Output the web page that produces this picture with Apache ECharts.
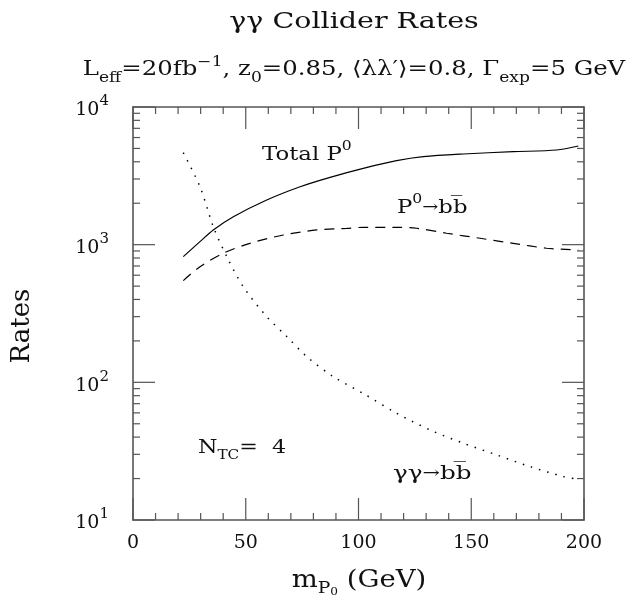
<!DOCTYPE html>
<html><head><meta charset="utf-8">
<script src="https://cdn.jsdelivr.net/npm/echarts@6/dist/echarts.min.js"></script>
<style>html,body{margin:0;padding:0;background:#fff}#c{width:636px;height:598px}</style>
</head><body><div id="c"></div>
<script>
// Data
const totalX = [22.3, 29.7, 35.6, 44.5, 59.3, 74.1, 87.4, 102.1, 116.9, 128.7, 146.5, 168.6, 187.9, 197.5];
const totalY = [818, 1052, 1279, 1597, 2112, 2637, 3085, 3586, 4074, 4357, 4558, 4735, 4871, 5210];
const bbX = [22.3, 29.7, 40.0, 51.9, 66.7, 81.5, 94.8, 102.1, 116.9, 125.8, 139.1, 153.9, 168.6, 183.4, 197.5];
const bbY = [548, 692, 866, 1023, 1176, 1279, 1313, 1337, 1337, 1316, 1210, 1113, 1023, 942, 915];
const ggX = [22.3, 29.7, 35.6, 41.6, 48.9, 59.3, 68.2, 77.0, 88.8, 102.1, 116.9, 131.7, 146.5, 161.3, 176.1, 190.8, 196.8];
const ggY = [4656, 2637, 1352, 818, 495, 300, 215, 154, 110, 83, 59.7, 45.1, 36.1, 29.7, 24.4, 20.7, 19.8];
const xTicks = [0,10,20,30,40,50,60,70,80,90,100,110,120,130,140,150,160,170,180,190,200];
const yTicks = [10,20,30,40,50,60,70,80,90,100,200,300,400,500,600,700,800,900,1000,2000,3000,4000,5000,6000,7000,8000,9000,10000];
const xRange = [0, 200];
const yRange = [10, 10000];

const zip = (xs, ys) => xs.map((x, i) => [x, ys[i]]);
const FONT = 'DejaVu Serif';
const AX = '#555';
const MAJ = 22, MIN = 7;
const isMajorX = v => v % 50 === 0;
const isMajorY = v => Math.abs(Math.log10(v) - Math.round(Math.log10(v))) < 1e-9;

const chart = echarts.init(document.getElementById('c'));
const baseRich = (size) => ({
  n: {fontSize: size, fontFamily: FONT, color: '#111', lineHeight: size + 10, verticalAlign: 'middle'},
  sub: {fontSize: Math.round(size * 0.68), fontFamily: FONT, color: '#111', lineHeight: Math.round(size * 0.68), verticalAlign: 'bottom'},
  sup: {fontSize: Math.round(size * 0.68), fontFamily: FONT, color: '#111', lineHeight: Math.round(size * 0.68), verticalAlign: 'top'},
  tiny: {fontSize: Math.round(size * 0.42), fontFamily: FONT, color: '#111', lineHeight: Math.round(size * 0.9), verticalAlign: 'bottom'},
  ar: {fontSize: Math.round(size * 0.85), fontFamily: FONT, color: '#111', lineHeight: size + 10, verticalAlign: 'middle'}
});
function txt(x, y, text, size, align, sx, rot) {
  return {type: 'text', x: x, y: y, scaleX: sx || 1, rotation: rot || 0, z: 20,
    style: {text: text, rich: baseRich(size), align: align || 'left', verticalAlign: 'middle', fill: '#111'}};
}

const axisLine = {show: true, onZero: false, lineStyle: {color: AX, width: 1.6}};
chart.setOption({
  animation: false,
  backgroundColor: '#fff',
  grid: {left: 133, right: 52, top: 107, bottom: 78, containLabel: false, outerBoundsMode: 'none'},
  xAxis: [
    {type: 'value', min: xRange[0], max: xRange[1], interval: 50, position: 'bottom',
     axisLine: axisLine, axisTick: {show: false}, splitLine: {show: false},
     axisLabel: {margin: 14, fontSize: 19, fontFamily: FONT, color: '#111'}},
    {type: 'value', min: xRange[0], max: xRange[1], interval: 50, position: 'top',
     axisLine: axisLine, axisTick: {show: false}, splitLine: {show: false}, axisLabel: {show: false}}
  ],
  yAxis: [
    {type: 'log', logBase: 10, min: yRange[0], max: yRange[1], position: 'left',
     axisLine: axisLine, axisTick: {show: false}, splitLine: {show: false},
     axisLabel: {
       margin: 24,
       formatter: v => '{b|10}{s|' + Math.round(Math.log10(v)) + '}',
       rich: {
         b: {fontSize: 19, fontFamily: FONT, color: '#111', lineHeight: 26, verticalAlign: 'bottom'},
         s: {fontSize: 15, fontFamily: FONT, color: '#111', lineHeight: 16, verticalAlign: 'top'}
       }
     }},
    {type: 'log', logBase: 10, min: yRange[0], max: yRange[1], position: 'right',
     axisLine: axisLine, axisTick: {show: false}, splitLine: {show: false}, axisLabel: {show: false}}
  ],
  series: [
    {type: 'line', name: 'Total P0', data: zip(totalX, totalY), showSymbol: false, smooth: 0.3,
     lineStyle: {color: '#000', width: 1.2, type: 'solid'}},
    {type: 'line', name: 'P0->bb', data: zip(bbX, bbY), showSymbol: false, smooth: 0.3,
     lineStyle: {color: '#000', width: 1.2, type: [10, 7]}},
    {type: 'line', name: 'gg->bb', data: zip(ggX, ggY), showSymbol: false, smooth: 0.3,
     lineStyle: {color: '#000', width: 1.5, type: [1.5, 7]}}
  ]
});

// Tick marks placed through the chart's own axis scales
const finder = {gridIndex: 0};
const tickLines = [];
const tl = (x1, y1, x2, y2) => tickLines.push({type: 'line', z: 100, silent: true,
  shape: {x1: x1, y1: y1, x2: x2, y2: y2}, style: {stroke: AX, lineWidth: 1.2}});
xTicks.forEach(v => {
  const L = isMajorX(v) ? MAJ : MIN;
  const pb = chart.convertToPixel(finder, [v, yRange[0]]);
  const pt = chart.convertToPixel(finder, [v, yRange[1]]);
  tl(pb[0], pb[1], pb[0], pb[1] - L);
  tl(pt[0], pt[1], pt[0], pt[1] + L);
});
yTicks.forEach(v => {
  const L = isMajorY(v) ? MAJ : MIN;
  const pl = chart.convertToPixel(finder, [xRange[0], v]);
  const pr = chart.convertToPixel(finder, [xRange[1], v]);
  tl(pl[0], pl[1], pl[0] + L, pl[1]);
  tl(pr[0], pr[1], pr[0] - L, pr[1]);
});

chart.setOption({
  graphic: [
    txt(354, 22, '{n|γγ Collider Rates}', 23, 'center', 1.24),
    txt(354, 70, '{n|L}{sub|eff}{n|=20fb}{sup|−1}{n|, z}{sub|0}{n|=0.85, ⟨λλ′⟩=0.8, Γ}{sub|exp}{n|=5 GeV}', 20, 'center', 1.22),
    txt(262, 155, '{n|Total P}{sup|0}', 19, 'left', 1.2),
    txt(397, 208, '{n|P}{sup|0}{ar|→}{n|bb\u0305}', 19, 'left', 1.2),
    txt(198, 448, '{n|N}{sub|TC}{n|=  4}', 19, 'left', 1.17),
    txt(393, 474, '{n|γγ}{ar|→}{n|bb\u0305}', 19, 'left', 1.3),
    txt(22, 326, '{n|Rates}', 26, 'center', 1, Math.PI / 2),
    txt(359, 580, '{n|m}{sub|P}{tiny|0}{n| (GeV)}', 25, 'center', 1.1)
  ].concat(tickLines)
});
</script></body></html>
